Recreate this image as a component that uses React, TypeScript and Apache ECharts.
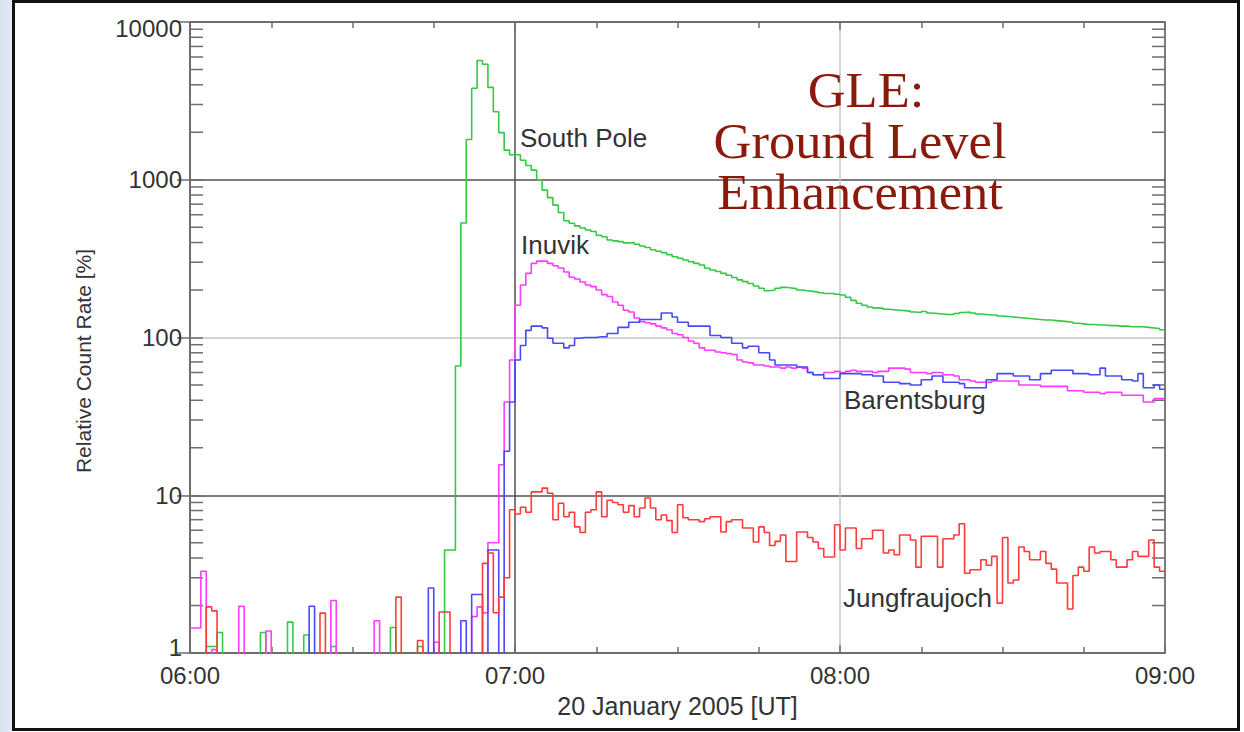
import React, { useEffect, useRef } from "react";
import * as echarts from "echarts";

// Relative count rates [%] of four neutron monitors, one value per minute from 06:00 UT.
// Values of 0.5 lie below the 1 % floor of the axis (background level).
const SERIES_NAMES = ["South Pole", "Inuvik", "Barentsburg", "Jungfraujoch"];
const SERIES_COLORS = ["#35c843", "#ff3cff", "#4848ff", "#ff3b3b"];

const HOUR_LABELS = ["06:00", "07:00", "08:00", "09:00"];
const DECADE_LABELS = ["1", "10", "100", "1000", "10000"];
const MINOR_MULTIPLIERS = [2, 3, 4, 5, 6, 7, 8, 9];
const DECADES = [1, 10, 100, 1000];

const X_TITLE = "20 January 2005 [UT]";
const Y_TITLE = "Relative Count Rate [%]";
const GLE_LINES = ["GLE:", "Ground Level", "Enhancement"];

const SOUTH_POLE = [
  0.5, 0.5, 0.5, 1.1, 1.1, 1.35, 0.5, 0.5, 0.5, 0.5,
  0.5, 0.5, 0.5, 1.35, 0.5, 0.5, 0.5, 0.5, 1.57, 0.5,
  0.5, 1.3, 0.5, 0.5, 0.5, 0.5, 1.1, 0.5, 0.5, 0.5,
  0.5, 0.5, 0.5, 0.5, 0.5, 0.5, 0.5, 1.45, 0.5, 0.5,
  0.5, 0.5, 1.1, 0.5, 0.5, 0.5, 0.5, 4.5, 4.5, 66,
  532, 1800, 3800, 5700, 5400, 3850, 2700, 1990, 1540, 1440,
  1440, 1330, 1230, 1150, 1000, 860, 770, 690, 620, 550,
  530, 510, 495, 480, 470, 445, 435, 415, 410, 405,
  398, 400, 390, 380, 372, 360, 352, 345, 335, 325,
  318, 310, 302, 295, 288, 275, 268, 262, 255, 248,
  240, 232, 226, 220, 212, 205, 198, 200, 205, 208,
  206, 204, 200, 198, 196, 194, 192, 190, 190, 188,
  186, 180, 172, 165, 160, 156, 154, 153, 151, 150,
  149, 148, 147, 145, 144, 146, 143, 142, 141, 140,
  140, 142, 144, 145, 143, 141, 140, 139, 139, 137,
  136, 135, 134, 133, 132, 131, 130, 129, 129, 128,
  127, 126, 125, 123, 122, 121, 121, 120, 120, 119,
  119, 118, 118, 117, 117, 117, 116, 115, 114, 112,
];

const INUVIK = [
  1.44, 1.44, 3.3, 0.5, 1.05, 0.5, 0.5, 0.5, 0.5, 1.98,
  0.5, 0.5, 0.5, 0.5, 1.38, 0.5, 0.5, 0.5, 0.5, 0.5,
  0.5, 0.5, 0.5, 0.5, 0.5, 0.5, 2.15, 0.5, 0.5, 0.5,
  0.5, 0.5, 0.5, 0.5, 1.6, 0.5, 0.5, 0.5, 0.5, 0.5,
  0.5, 0.5, 0.5, 0.5, 0.5, 1.17, 0.5, 0.5, 0.5, 0.5,
  0.5, 0.5, 1.7, 1.96, 1.8, 5.0, 5.0, 15.6, 39, 72,
  160, 215, 255, 295, 305, 305, 295, 285, 276, 260,
  241, 235, 225, 215, 210, 200, 187, 182, 168, 160,
  149, 145, 133, 126, 124, 122, 118, 115, 112, 106,
  104, 100, 95, 92, 86, 83, 83, 81, 80, 79,
  78, 72, 70, 69, 67, 67, 66, 65, 65, 64,
  65, 64, 65, 64, 60, 58, 58, 60, 60, 61,
  60, 61, 62, 61, 61, 61, 60, 61, 61, 64,
  64, 64, 63, 60, 60, 60, 59, 60, 60, 58,
  58, 57, 54, 54, 53, 52, 52, 52, 53, 53,
  53, 53, 53, 50, 50, 50, 50, 49, 49, 49,
  49, 49, 46, 46, 46, 45, 45, 45, 44, 45,
  45, 45, 43, 43, 43, 43, 39, 39, 41, 41,
];

const BARENTSBURG = [
  0.5, 0.5, 0.5, 0.5, 0.5, 0.5, 0.5, 0.5, 0.5, 0.5,
  0.5, 0.5, 0.5, 0.5, 0.5, 0.5, 0.5, 0.5, 0.5, 0.5,
  0.5, 0.5, 1.98, 0.5, 0.5, 0.5, 0.5, 0.5, 0.5, 0.5,
  0.5, 0.5, 0.5, 0.5, 0.5, 0.5, 0.5, 0.5, 0.5, 0.5,
  0.5, 0.5, 0.5, 0.5, 2.58, 0.5, 0.5, 0.5, 0.5, 0.5,
  1.6, 0.5, 2.35, 2.35, 0.5, 4.5, 4.5, 0.5, 19, 39,
  72, 89, 111, 118, 118, 115, 99, 92, 92, 86,
  89, 99, 100, 100, 100, 101, 101, 106, 106, 116,
  116, 125, 125, 130, 130, 130, 130, 143, 143, 135,
  125, 125, 118, 118, 118, 118, 103, 103, 100, 100,
  92, 92, 86, 88, 88, 80, 80, 72, 67, 67,
  67, 67, 65, 65, 60, 58, 58, 55, 55, 55,
  59, 59, 59, 59, 58, 58, 57, 57, 52, 52,
  52, 51, 51, 50, 50, 54, 54, 57, 57, 52,
  52, 52, 51, 48, 48, 48, 48, 54, 54, 59,
  59, 59, 57, 57, 57, 54, 54, 59, 59, 62,
  62, 62, 62, 59, 59, 59, 58, 58, 64, 57,
  57, 57, 54, 54, 53, 59, 48, 48, 50, 47,
];

const JUNGFRAUJOCH = [
  0.5, 0.5, 0.5, 1.96, 1.85, 0.5, 0.5, 0.5, 0.5, 0.5,
  0.5, 0.5, 0.5, 0.5, 0.5, 0.5, 0.5, 0.5, 0.5, 0.5,
  0.5, 0.5, 0.5, 0.5, 1.79, 0.5, 0.5, 0.5, 0.5, 0.5,
  0.5, 0.5, 0.5, 0.5, 0.5, 0.5, 0.5, 0.5, 2.26, 0.5,
  0.5, 0.5, 1.2, 0.5, 0.5, 0.5, 1.82, 1.82, 0.5, 0.5,
  0.5, 0.5, 0.5, 0.5, 3.7, 4.3, 1.8, 2.26, 3.0, 8.1,
  7.6, 8.4, 7.8, 10.5, 10.5, 11.1, 10.3, 7.0, 8.9, 7.3,
  7.8, 6.3, 5.8, 7.8, 8.1, 10.5, 7.3, 9.3, 9.0, 8.7,
  7.8, 8.6, 7.3, 8.3, 9.6, 8.3, 7.0, 7.5, 6.9, 5.8,
  8.7, 7.2, 7.0, 7.0, 6.8, 7.1, 7.3, 7.3, 5.85, 6.8,
  7.0, 7.0, 6.2, 6.2, 5.05, 6.3, 5.8, 4.8, 5.1, 5.6,
  3.8, 3.8, 5.85, 5.85, 5.4, 5.05, 4.6, 4.06, 4.06, 6.5,
  4.5, 6.2, 6.2, 4.6, 5.3, 5.3, 6.0, 6.0, 4.3, 4.5,
  4.2, 5.6, 5.6, 5.2, 3.5, 5.5, 5.5, 5.5, 3.5, 5.3,
  5.3, 5.6, 6.6, 3.2, 3.37, 3.37, 3.9, 3.6, 4.1, 2.07,
  5.4, 2.78, 2.9, 4.7, 4.4, 3.9, 3.9, 4.4, 3.7, 3.4,
  2.78, 2.78, 1.9, 3.1, 3.5, 3.3, 4.7, 4.3, 4.4, 4.4,
  3.9, 3.5, 3.5, 3.9, 4.4, 4.1, 4.1, 5.2, 3.5, 3.3,
];

const STATION_VALUES = [SOUTH_POLE, INUVIK, BARENTSBURG, JUNGFRAUJOCH];

const AXIS_GRAY = "#6e6e6e";
const TEXT_GRAY = "#333333";
const SANS = "'Liberation Sans', Arial, Helvetica, sans-serif";
const SERIF = "'Liberation Serif', 'Times New Roman', serif";

// One point per minute; the last value is held to the end of the window.
function toSteps(values: number[]) {
  const pts: [number, number][] = values.map((v, i) => [i, v]);
  pts.push([values.length, values[values.length - 1]]);
  return pts;
}

function stationLabel(text: string, x: number, y: number) {
  return {
    type: "text",
    x,
    y,
    z: 10,
    style: { text, fontSize: 26, fontFamily: SANS, fill: TEXT_GRAY, verticalAlign: "middle" },
  };
}

function gleLine(text: string, x: number, y: number) {
  return {
    type: "text",
    x,
    y,
    scaleX: 1.05,
    z: 10,
    style: {
      text,
      fontSize: 50,
      fontFamily: SERIF,
      fill: "#8c1a0c",
      align: "center",
      verticalAlign: "middle",
    },
  };
}

export default function App() {
  const ref = useRef<HTMLDivElement>(null);

  useEffect(() => {
    if (!ref.current) return;
    const chart = echarts.init(ref.current, undefined, { renderer: "svg" });

    const minorTicks = DECADES.flatMap((d) => MINOR_MULTIPLIERS.map((m) => m * d));

    const lineSeries = STATION_VALUES.map((vals, i) => ({
      name: SERIES_NAMES[i],
      type: "line",
      step: "end",
      data: toSteps(vals),
      showSymbol: false,
      symbol: "none",
      clip: true,
      lineStyle: { color: SERIES_COLORS[i], width: 1.6 },
      itemStyle: { color: SERIES_COLORS[i] },
      z: 3,
    }));

    // Minor ticks of the log axis (2..9 per decade), inside the frame on both sides.
    const tickSeries = {
      type: "custom",
      silent: true,
      data: minorTicks.map((v) => [0, v]),
      encode: { x: 0, y: 1 },
      z: 2,
      renderItem: (params: any, api: any) => {
        const y = api.coord([0, api.value(1)])[1];
        const cs = params.coordSys;
        const style = { stroke: AXIS_GRAY, lineWidth: 1.5 };
        return {
          type: "group",
          children: [
            { type: "line", shape: { x1: cs.x, y1: y, x2: cs.x + 13, y2: y }, style },
            {
              type: "line",
              shape: { x1: cs.x + cs.width - 13, y1: y, x2: cs.x + cs.width, y2: y },
              style,
            },
          ],
        };
      },
    };

    const axisLine = { show: true, lineStyle: { color: AXIS_GRAY, width: 2 } };
    const xTick = { show: true, inside: true, length: 8, lineStyle: { color: AXIS_GRAY, width: 1.5 } };
    const xMinor = { show: true, splitNumber: 4, length: 6, lineStyle: { color: AXIS_GRAY, width: 1.5 } };
    const yTick = { show: true, inside: true, length: 13, lineStyle: { color: AXIS_GRAY, width: 1.5 } };

    chart.setOption({
      animation: false,
      backgroundColor: "transparent",
      grid: { left: 190, top: 22, width: 975, height: 631, containLabel: false },
      xAxis: [
        {
          type: "value",
          position: "bottom",
          min: 0,
          max: 180,
          interval: 60,
          axisLine,
          axisTick: xTick,
          minorTick: xMinor,
          axisLabel: {
            margin: 10,
            fontSize: 24,
            fontFamily: SANS,
            color: TEXT_GRAY,
            formatter: (v: number) => HOUR_LABELS[Math.round(v / 60)] ?? "",
          },
          splitLine: {
            show: true,
            lineStyle: { color: ["#505050", "#505050", "#c4c4c4"], width: 1.5 },
          },
          name: X_TITLE,
          nameLocation: "middle",
          nameGap: 40,
          nameTextStyle: { fontSize: 25, fontFamily: SANS, color: TEXT_GRAY },
        },
        {
          type: "value",
          position: "top",
          min: 0,
          max: 180,
          interval: 60,
          axisLine,
          axisTick: xTick,
          minorTick: xMinor,
          axisLabel: { show: false },
          splitLine: { show: false },
        },
      ],
      yAxis: [
        {
          type: "log",
          logBase: 10,
          min: 1,
          max: 10000,
          splitNumber: 4,
          position: "left",
          axisLine,
          axisTick: yTick,
          axisLabel: {
            margin: 8,
            fontSize: 24,
            lineHeight: 12,
            fontFamily: SANS,
            color: TEXT_GRAY,
            verticalAlignMinLabel: "bottom",
            verticalAlignMaxLabel: "top",
            formatter: (v: number) => DECADE_LABELS[Math.round(Math.log10(v))] ?? "",
          },
          splitLine: {
            show: true,
            lineStyle: { color: ["#505050", "#505050", "#c4c4c4"], width: 1.5 },
          },
        },
        {
          type: "log",
          logBase: 10,
          min: 1,
          max: 10000,
          splitNumber: 4,
          position: "right",
          axisLine,
          axisTick: yTick,
          axisLabel: { show: false },
          splitLine: { show: false },
        },
      ],
      graphic: [
        {
          type: "text",
          x: 83,
          y: 361,
          rotation: Math.PI / 2,
          z: 10,
          style: {
            text: Y_TITLE,
            fontSize: 21,
            fontFamily: SANS,
            fill: TEXT_GRAY,
            align: "center",
            verticalAlign: "middle",
          },
        },
        stationLabel(SERIES_NAMES[0], 520, 138),
        stationLabel(SERIES_NAMES[1], 521, 245),
        stationLabel(SERIES_NAMES[2], 844, 400),
        stationLabel(SERIES_NAMES[3], 843, 598),
        gleLine(GLE_LINES[0], 866, 90),
        gleLine(GLE_LINES[1], 860, 141),
        gleLine(GLE_LINES[2], 860, 192),
      ],
      series: [...lineSeries, tickSeries],
    });

    return () => chart.dispose();
  }, []);

  return (
    <div
      style={{
        position: "fixed",
        left: 0,
        top: 0,
        width: 1244,
        height: 732,
        background: "linear-gradient(to right, #d8e2f1 0px, #e4ebf6 12px, #ffffff 12px)",
      }}
    >
      <div
        style={{
          position: "absolute",
          left: 12,
          top: 0,
          width: 1228,
          height: 731,
          boxSizing: "border-box",
          border: "3px solid #111111",
          background: "#ffffff",
        }}
      />
      <div ref={ref} style={{ position: "absolute", left: 0, top: 0, width: 1244, height: 732 }} />
    </div>
  );
}
